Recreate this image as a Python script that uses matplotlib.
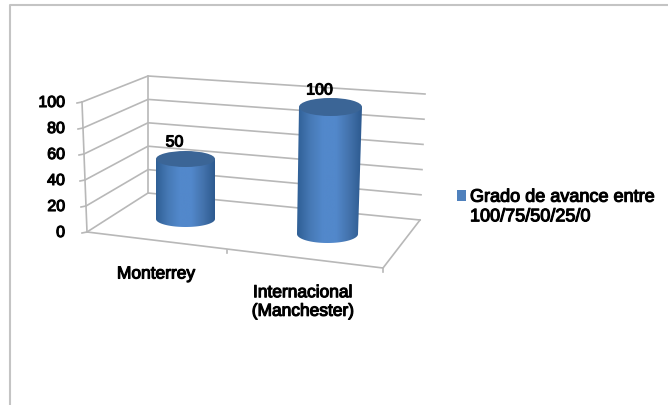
import numpy as np
import matplotlib
matplotlib.use('Agg')
import matplotlib.pyplot as plt
import matplotlib.patheffects as pe
from matplotlib.patches import Ellipse, Polygon, Rectangle
from matplotlib.colors import LinearSegmentedColormap

categories = ['Monterrey', 'Internacional\n(Manchester)']
values = [50, 100]
y_ticks = [0, 20, 40, 60, 80, 100]
legend_label = 'Grado de avance entre\n100/75/50/25/0'

plt.rcParams['font.family'] = ['Liberation Sans', 'DejaVu Sans']

fig = plt.figure(figsize=(6.68, 4.05), dpi=100)
ax = fig.add_axes([0, 0, 1, 1])
ax.set_xlim(0, 668)
ax.set_ylim(405, 0)
ax.axis('off')

grid_c = '#b8b8b8'
fake_bold = [pe.withStroke(linewidth=0.8, foreground='black')]

# outer frame, only top and left show
ax.plot([9.5, 9.5, 668], [405, 4.5, 4.5], color='#c4c4c4', lw=1.5)


def lerp(a, b, v):
    return a + (b - a) * v / 100.0


# walls and floor
front_l = [(87, 232), (82, 102)]
back_l = [(148, 193), (148, 76)]
back_r = [(420, 220), (425, 94)]
front_r = (383, 268)

for v in y_ticks:
    xs = [lerp(front_l[0][0], front_l[1][0], v),
          lerp(back_l[0][0], back_l[1][0], v),
          lerp(back_r[0][0], back_r[1][0], v)]
    ys = [lerp(front_l[0][1], front_l[1][1], v),
          lerp(back_l[0][1], back_l[1][1], v),
          lerp(back_r[0][1], back_r[1][1], v)]
    ax.plot(xs, ys, color=grid_c, lw=1.2, zorder=1)
    ax.plot([xs[0] - 5, xs[0]], [ys[0] + 1, ys[0]], color=grid_c, lw=1.2, zorder=1)
    ax.text(65, ys[0] + 0.5, str(v), ha='right', va='center', fontsize=11.5,
            color='black', path_effects=fake_bold)

ax.plot([front_l[0][0], front_l[1][0]], [front_l[0][1], front_l[1][1]], color=grid_c, lw=1.2, zorder=1)
ax.plot([back_l[0][0], back_l[1][0]], [back_l[0][1], back_l[1][1]], color=grid_c, lw=1.2, zorder=1)
ax.plot([front_l[0][0], front_r[0], back_r[0][0]], [front_l[0][1], front_r[1], back_r[0][1]],
        color=grid_c, lw=1.2, zorder=1)
ax.plot([227, 227], [250, 253], color=grid_c, lw=1.2, zorder=1)
ax.plot([383, 383], [268, 272], color=grid_c, lw=1.2, zorder=1)

# cylinders
cyl_cmap = LinearSegmentedColormap.from_list(
    'cyl', ['#2f5f95', '#4679b5', '#5288cb', '#5288cb', '#4473ad', '#2d5a8f'])
gradient = np.linspace(0, 1, 256).reshape(1, -1)

base_x = [(156, 215), (297, 358)]
top_x = [(156, 215), (299, 362)]
base_y = [219, 234]
unit_h = [1.20, 1.27]
rx_h = [8, 9]

for i, val in enumerate(values):
    xl, xr = base_x[i]
    txl, txr = top_x[i]
    yb = base_y[i]
    yt = yb - val * unit_h[i]
    h = rx_h[i]
    t = np.linspace(np.pi, 0, 60)
    low_x = (xl + xr) / 2 + (xr - xl) / 2 * np.cos(t)
    low_y = yb + h * np.sin(t)
    body = np.column_stack([np.r_[txl, low_x, txr], np.r_[yt, low_y, yt]])
    clip = Polygon(body, closed=True, transform=ax.transData, fc='none', ec='none')
    ax.add_patch(clip)
    im = ax.imshow(gradient, extent=[min(xl, txl), max(xr, txr), yb + h, yt], cmap=cyl_cmap,
                   aspect='auto', zorder=3)
    im.set_clip_path(clip)
    ax.add_patch(Ellipse(((txl + txr) / 2, yt), txr - txl, 2 * h, fc='#3b6596', ec='none', zorder=4))
    ax.text((txl + txr) / 2 - 11, yt - 17, str(val), ha='center', va='center', fontsize=11.5,
            color='black', path_effects=fake_bold, zorder=5)

ax.set_xlim(0, 668)
ax.set_ylim(405, 0)

# category labels
ax.text(156, 274, categories[0], ha='center', va='center', fontsize=12.5, color='black',
        path_effects=fake_bold)
ax.text(303, 302, categories[1], ha='center', va='center', fontsize=12.5, color='black',
        linespacing=1.3, path_effects=fake_bold)

# legend
ax.add_patch(Rectangle((457, 190), 9, 11, fc='#4f81bd', ec='none'))
ax.text(470, 207, legend_label, ha='left', va='center', fontsize=13, color='black',
        linespacing=1.2, path_effects=fake_bold)

fig.savefig('out.png', dpi=100)
